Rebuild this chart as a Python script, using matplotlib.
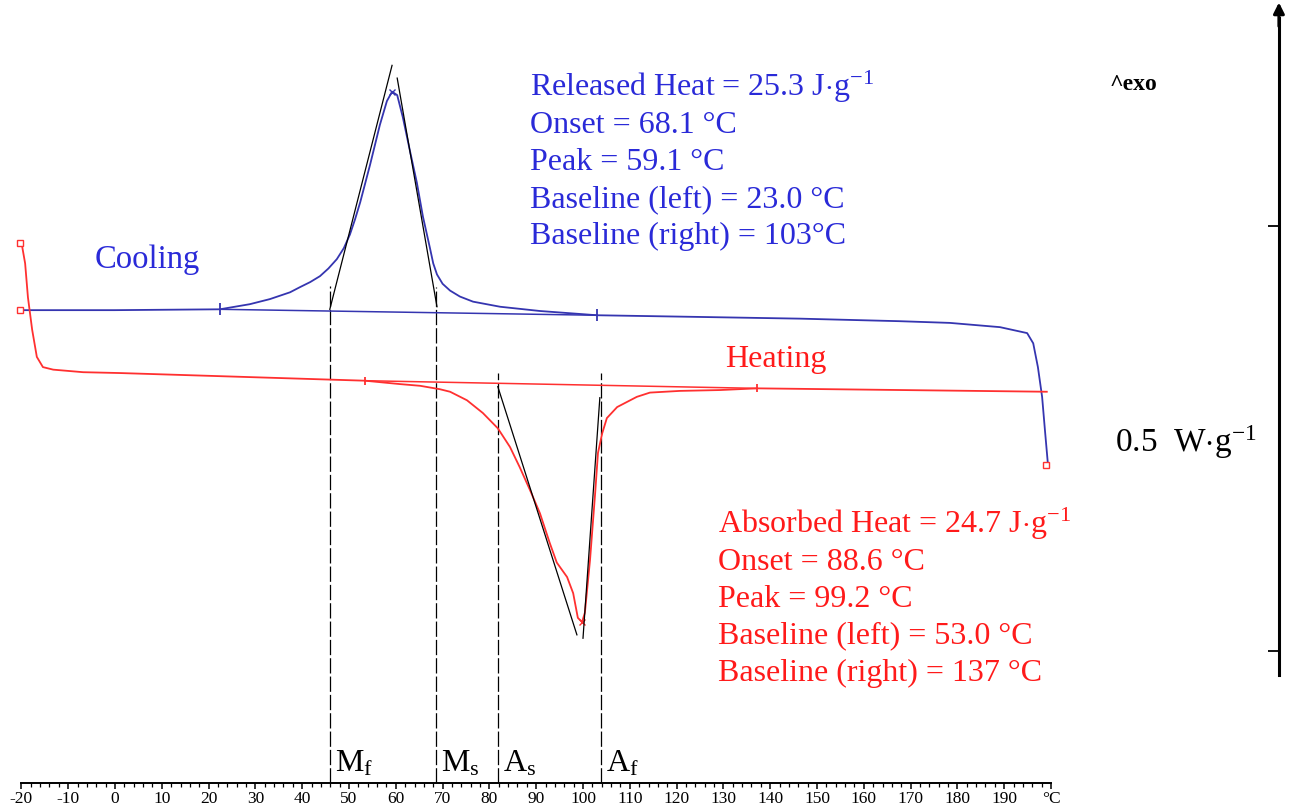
import matplotlib
matplotlib.use("Agg")
import matplotlib.pyplot as plt
from matplotlib.ticker import FixedLocator

plt.rcParams['font.family'] = ['Liberation Serif', 'DejaVu Serif']
plt.rcParams['mathtext.fontset'] = 'custom'
plt.rcParams['mathtext.rm'] = 'Liberation Serif'
plt.rcParams['mathtext.it'] = 'Liberation Serif:italic'
plt.rcParams['lines.scale_dashes'] = False

# ---------------- data (temperature in °C, heat flow in W/g, arbitrary offset) ----------------
cool_T = [-20.3, 0, 22.4, 28.8, 33.1, 37.4, 39.5, 41.7, 43.8, 45.6, 47.4, 48.9, 50.2, 51.3,
          52.4, 54.5, 56.6, 58.1, 59.2, 60.3, 61.5, 63.0, 64.5, 65.8, 67.3, 68.0, 68.8,
          70.0, 71.6, 73.7, 76.5, 82.3, 90.8, 103.0,
          125.0, 146.4, 167.7, 178.4, 189.1, 194.9, 196.2, 197.2, 198.1, 198.7, 199.4]
cool_W = [0.401, 0.401, 0.402, 0.408, 0.414, 0.422, 0.428, 0.434, 0.441, 0.450, 0.461, 0.474,
          0.490, 0.508, 0.528, 0.572, 0.619, 0.647, 0.658, 0.654, 0.628, 0.589, 0.551, 0.511,
          0.474, 0.456, 0.443, 0.432, 0.424, 0.417, 0.411, 0.405, 0.400, 0.395,
          0.393, 0.391, 0.388, 0.386, 0.381, 0.374, 0.362, 0.334, 0.299, 0.260, 0.216]

heat_T = [-20.3, -19.9, -19.2, -18.6, -17.7, -16.7, -15.4, -13.2, -6.8, 1.1, 53.4, 60.9, 65.2,
          69.4, 71.6, 75.2, 78.6, 81.8, 84.4, 86.5, 88.7, 90.8, 92.9, 94.4, 96.6, 97.9, 98.9,
          99.8, 100.4, 101.5, 102.6, 103.2, 104.1, 105.1, 107.3, 111.5, 114.3, 120.7, 129.3,
          137.2, 199.1]
heat_W = [0.480, 0.478, 0.456, 0.416, 0.378, 0.346, 0.334, 0.331, 0.328, 0.327, 0.318, 0.314,
          0.312, 0.308, 0.305, 0.295, 0.280, 0.262, 0.240, 0.216, 0.189, 0.162, 0.127, 0.104,
          0.087, 0.068, 0.039, 0.034, 0.045, 0.107, 0.186, 0.233, 0.256, 0.274, 0.287, 0.299,
          0.304, 0.306, 0.307, 0.309, 0.305]

cool_base_T = [22.4, 103.0]
cool_base_W = [0.402, 0.395]
heat_base_T = [53.4, 137.2]
heat_base_W = [0.318, 0.309]

cool_peak = (59.2, 0.658)
heat_peak = (99.8, 0.034)

cool_tan_left_T = [45.9, 59.2]
cool_tan_left_W = [0.402, 0.689]
cool_tan_right_T = [60.3, 68.8]
cool_tan_right_W = [0.674, 0.405]
heat_tan_left_T = [81.8, 98.7]
heat_tan_left_W = [0.311, 0.019]
heat_tan_right_T = [100.0, 103.6]
heat_tan_right_W = [0.015, 0.298]

trans_names = [r'M$_\mathrm{f}$', r'M$_\mathrm{s}$', r'A$_\mathrm{s}$', r'A$_\mathrm{f}$']
trans_T = [45.9, 68.6, 81.8, 103.8]
trans_top_W = [0.430, 0.428, 0.327, 0.327]

end_marks_T = [-20.3, -20.3, 198.9]
end_marks_W = [0.480, 0.401, 0.219]

cool_text = [r'Released Heat = 25.3 J$\cdot$g$^{\mathrm{-1}}$',
             'Onset = 68.1 °C',
             'Peak = 59.1 °C',
             'Baseline (left) = 23.0 °C',
             'Baseline (right) = 103°C']
heat_text = [r'Absorbed Heat = 24.7 J$\cdot$g$^{\mathrm{-1}}$',
             'Onset = 88.6 °C',
             'Peak = 99.2 °C',
             'Baseline (left) = 53.0 °C',
             'Baseline (right) = 137 °C']

x_ticks = list(range(-20, 201, 10))
x_minor = list(range(-20, 201, 2))
x_ticklabels = [str(t) for t in x_ticks[:-1]] + ['°C']

BLUE_LINE = '#3535b0'
BLUE_TEXT = '#2a2ad8'
RED_LINE = '#ff3030'
RED_TEXT = '#ff1a1a'

# ---------------- figure ----------------
fig = plt.figure(figsize=(12.91, 8.05), dpi=100)
ax = fig.add_axes([0, 0, 1, 1])
ax.set_xlim(-24.57, 251.28)
ax.set_ylim(-0.1812, 0.7659)
ax.patch.set_alpha(0)

AXIS_Y = -0.1553
RIGHT_X = 248.7

# curves
ax.plot(cool_T, cool_W, color=BLUE_LINE, lw=1.3, zorder=3)
ax.plot(heat_T, heat_W, color=RED_LINE, lw=1.3, zorder=3)
ax.plot(cool_base_T, cool_base_W, color=BLUE_LINE, lw=1.1, zorder=3,
        marker='|', markersize=9, markeredgewidth=1.3)
ax.plot(heat_base_T, heat_base_W, color=RED_LINE, lw=1.1, zorder=3,
        marker='|', markersize=6, markeredgewidth=1.3)
ax.plot(end_marks_T, end_marks_W, ls='none', marker='s', markersize=4.5,
        markerfacecolor='white', markeredgecolor=RED_LINE, markeredgewidth=1, zorder=4)
ax.plot(*cool_peak, marker='x', markersize=4, color=BLUE_LINE, mew=1, zorder=4)
ax.plot(*heat_peak, marker='x', markersize=4, color=RED_LINE, mew=1, zorder=4)

# tangents
for tT, tW in [(cool_tan_left_T, cool_tan_left_W), (cool_tan_right_T, cool_tan_right_W),
               (heat_tan_left_T, heat_tan_left_W), (heat_tan_right_T, heat_tan_right_W)]:
    ax.plot(tT, tW, color='black', lw=0.9, zorder=4)

# transition lines and labels
for name, T, top in zip(trans_names, trans_T, trans_top_W):
    ax.plot([T, T], [AXIS_Y, top], color='black', lw=0.9, dashes=(11, 2.2), zorder=2)
    ax.annotate(name, xy=(T, AXIS_Y), xytext=(3.5, 8), textcoords='offset points',
                ha='left', va='baseline', fontsize=23, color='black')

# text blocks
for i, s in enumerate(cool_text):
    ax.annotate(s, xy=(88.7, 0.653), xytext=(0, -26.6 * i), textcoords='offset points',
                ha='left', va='baseline', fontsize=23, color=BLUE_TEXT)
for i, s in enumerate(heat_text):
    ax.annotate(s, xy=(128.8, 0.139), xytext=(0, -26.6 * i), textcoords='offset points',
                ha='left', va='baseline', fontsize=23, color=RED_TEXT)

ax.text(-4.3, 0.451, 'Cooling', fontsize=23.5, color=BLUE_TEXT, ha='left', va='baseline')
ax.text(130.3, 0.334, 'Heating', fontsize=23, color=RED_TEXT, ha='left', va='baseline')
ax.text(213.7, 0.234, r'0.5  W$\cdot$g$^{\mathrm{-1}}$', fontsize=24, color='black',
        ha='left', va='baseline')
ax.text(212.6, 0.66, '^exo', fontsize=17, fontweight='bold', color='black',
        ha='left', va='baseline')

# axes styling
ax.spines['top'].set_visible(False)
ax.spines['left'].set_visible(False)
ax.spines['bottom'].set_position(('data', AXIS_Y))
ax.spines['bottom'].set_bounds(-20, 200)
ax.spines['bottom'].set_linewidth(1.4)
ax.spines['right'].set_position(('data', RIGHT_X))
ax.spines['right'].set_bounds(-0.028, 0.745)
ax.spines['right'].set_linewidth(2.2)

ax.set_xticks(x_ticks)
ax.set_xticklabels(x_ticklabels)
ax.xaxis.set_minor_locator(FixedLocator(x_minor))
ax.tick_params(axis='x', which='major', direction='out', length=4.5, width=1.1,
               labelsize=12.5, pad=1)
ax.tick_params(axis='x', which='minor', direction='out', length=3, width=0.9)

ax.yaxis.set_ticks_position('right')
ax.set_yticks([0.0, 0.5])
ax.set_yticklabels([])
ax.tick_params(axis='y', which='major', direction='in', length=8, width=1.3)

ax.annotate('', xy=(RIGHT_X, 0.763), xytext=(RIGHT_X, 0.735),
            arrowprops=dict(arrowstyle='-|>', color='black', lw=2.2, mutation_scale=16,
                            shrinkA=0, shrinkB=0),
            annotation_clip=False)

fig.savefig('out.png', dpi=100)
